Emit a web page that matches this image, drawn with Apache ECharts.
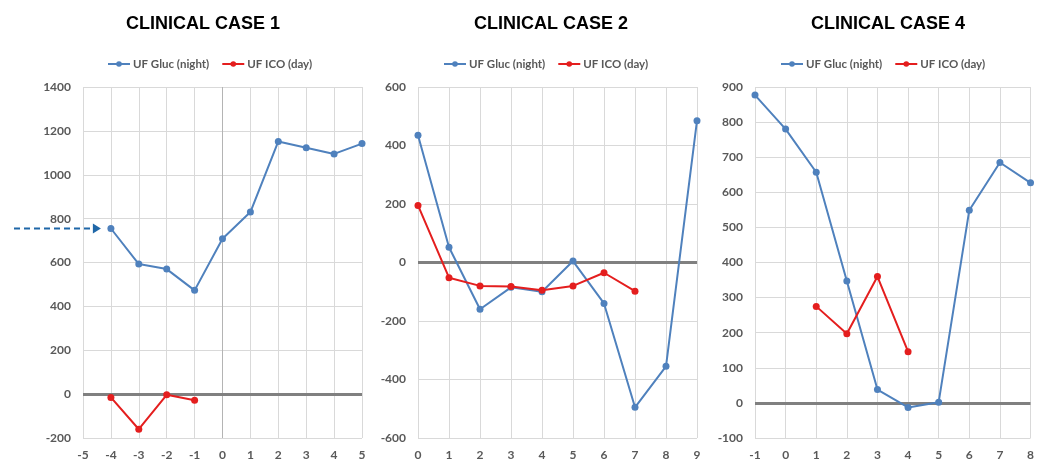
<!DOCTYPE html>
<html><head><meta charset="utf-8">
<script src="https://cdn.jsdelivr.net/npm/echarts@6/dist/echarts.min.js"></script>
<style>html,body{margin:0;padding:0;background:#fff}#c{width:1037px;height:461px}</style>
</head><body><div id="c"></div>
<script>
const titles = ['CLINICAL CASE 1', 'CLINICAL CASE 2', 'CLINICAL CASE 4'];
const seriesNames = ['UF Gluc (night)', 'UF ICO (day)'];

const glucX1 = [-4, -3, -2, -1, 0, 1, 2, 3, 4, 5];
const glucY1 = [755, 593, 570, 473, 708, 830, 1152, 1123, 1095, 1142];
const icoX1 = [-4, -3, -2, -1];
const icoY1 = [-15, -160, -3, -28];

const glucX2 = [0, 1, 2, 3, 4, 5, 6, 7, 8, 9];
const glucY2 = [435, 52, -160, -85, -100, 5, -140, -495, -355, 485];
const icoX2 = [0, 1, 2, 3, 4, 5, 6, 7];
const icoY2 = [195, -52, -80, -82, -95, -80, -35, -98];

const glucX3 = [-1, 0, 1, 2, 3, 4, 5, 6, 7, 8];
const glucY3 = [877, 780, 657, 347, 38, -13, 2, 549, 685, 627];
const icoX3 = [1, 2, 3, 4];
const icoY3 = [275, 197, 360, 146];

const xRanges = [[-5, 5, 1], [0, 9, 1], [-1, 8, 1]];
const yRanges = [[-200, 1400, 200], [-600, 600, 200], [-100, 900, 100]];
const arrowValue = [-4, 755];

const zip = (a, b) => a.map((v, i) => [v, b[i]]);
const glucData = [zip(glucX1, glucY1), zip(glucX2, glucY2), zip(glucX3, glucY3)];
const icoData = [zip(icoX1, icoY1), zip(icoX2, icoY2), zip(icoX3, icoY3)];

const BLUE = '#4f81bd', RED = '#e41e1e', GRID = '#d9d9d9', TXT = '#595959';
const FONT = 'Lato, "Open Sans", sans-serif';
const lefts = [83, 418, 755];
const W = 279;
const titleCenters = [198, 546, 883];
const legendLefts = [107, 443, 780];

const chart = echarts.init(document.getElementById('c'), null, {renderer: 'canvas'});
const opt = {
  animation: false,
  title: [], legend: [], grid: [], xAxis: [], yAxis: [], series: []
};
const fmt = v => String(v);
for (let i = 0; i < 3; i++) {
  opt.title.push({
    text: titles[i], left: titleCenters[i], top: 10, textAlign: 'center',
    textStyle: {fontFamily: '"Liberation Sans Narrow", "Liberation Sans", Arial, sans-serif', fontWeight: 'bold', fontSize: 18, color: '#000'}
  });
  opt.legend.push({
    left: legendLefts[i], top: 58, width: 300, orient: 'horizontal', padding: 0,
    data: seriesNames, itemWidth: 22, itemHeight: 7, itemGap: 12,
    textStyle: {fontFamily: FONT, fontSize: 11.5, fontWeight: 'bold', color: TXT, padding: [0, 0, 0, -2]},
    seriesIndex: [2 * i, 2 * i + 1]
  });
  opt.grid.push({left: lefts[i], width: W, top: 87, height: 353, containLabel: false});
  opt.xAxis.push({
    type: 'value', gridIndex: i, min: xRanges[i][0], max: xRanges[i][1], interval: xRanges[i][2],
    axisLine: {show: false}, axisTick: {show: false},
    axisLabel: {color: TXT, fontFamily: FONT, fontWeight: 'bold', fontSize: 12, margin: 11, formatter: fmt},
    splitLine: {show: true, lineStyle: {color: GRID, width: 1}}
  });
  opt.yAxis.push({
    type: 'value', gridIndex: i, min: yRanges[i][0], max: yRanges[i][1], interval: yRanges[i][2],
    axisLine: {show: false}, axisTick: {show: false},
    axisLabel: {color: TXT, fontFamily: FONT, fontWeight: 'bold', fontSize: 12, margin: 12, formatter: fmt},
    splitLine: {show: true, lineStyle: {color: GRID, width: 1}}
  });
  const mlData = [{yAxis: 0, lineStyle: {color: '#808080', width: 3, type: 'solid'}}];
  if (i === 0) mlData.unshift({xAxis: 0, lineStyle: {color: '#b4b4b4', width: 1, type: 'solid'}});
  opt.series.push({
    name: seriesNames[0], type: 'line', xAxisIndex: i, yAxisIndex: i,
    data: glucData[i], symbol: 'circle', symbolSize: 7,
    lineStyle: {color: BLUE, width: 2}, itemStyle: {color: BLUE}, z: 3,
    markLine: {silent: true, symbol: 'none', label: {show: false}, data: mlData, z: 1,
               lineStyle: {type: 'solid'}}
  });
  opt.series.push({
    name: seriesNames[1], type: 'line', xAxisIndex: i, yAxisIndex: i,
    data: icoData[i], symbol: 'circle', symbolSize: 7,
    lineStyle: {color: RED, width: 2}, itemStyle: {color: RED}, z: 4
  });
}
chart.setOption(opt);

const p = chart.convertToPixel({gridIndex: 0}, arrowValue);
const tipX = p[0] - 10, y = p[1];
chart.setOption({
  graphic: [
    {type: 'line', shape: {x1: 14, y1: y, x2: tipX - 7, y2: y},
     style: {stroke: '#1f67a8', lineWidth: 2, lineDash: [6, 4]}},
    {type: 'polygon', shape: {points: [[tipX - 8, y - 5], [tipX, y], [tipX - 8, y + 5]]},
     style: {fill: '#1f67a8'}}
  ]
});
</script></body></html>
